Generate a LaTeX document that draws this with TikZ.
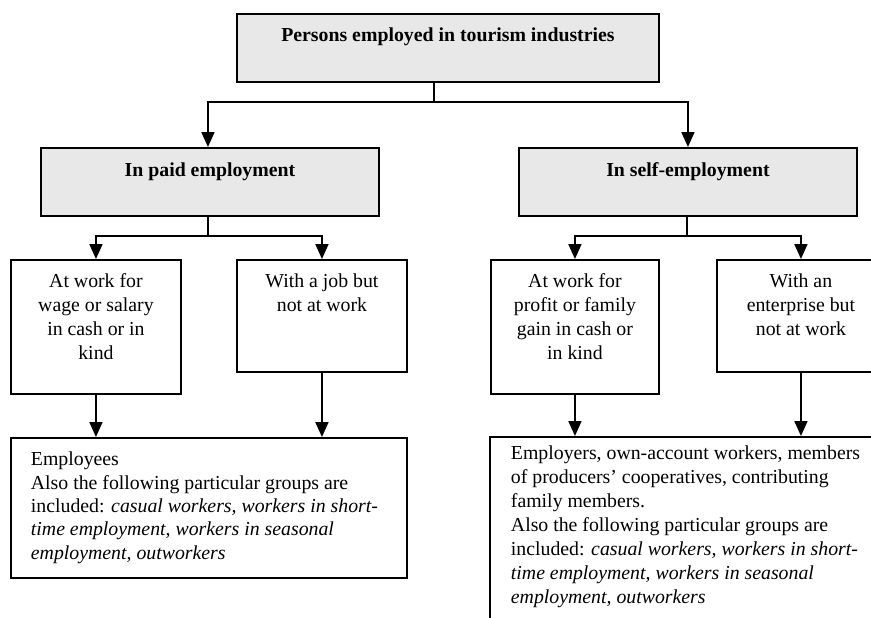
\documentclass[tikz,border=0pt]{standalone}
\usepackage{fontspec}
\setmainfont{Liberation Serif}
\usetikzlibrary{arrows.meta}
\definecolor{boxgray}{HTML}{E8E8E8}
\tikzset{
  box/.style={draw, line width=1.9pt, inner sep=0pt, anchor=north west},
  greybox/.style={box, fill=boxgray},
  link/.style={line width=1.9pt},
  arr/.style={link, -{Triangle[width=13pt,length=15pt]}},
  every node/.style={font=\fontsize{19.8}{23.7}\selectfont},
}
\newcommand{\cbox}[4]{\parbox[t][#2][t]{#1}{\centering\rule{0pt}{#3}#4}}
\newcommand{\lbox}[5]{\parbox[t][#2][t]{#1}{\raggedright\leftskip=#4\rule{0pt}{#3}#5}}
\begin{document}
\begin{tikzpicture}[x=1pt,y=-1pt]
\useasboundingbox (0,0) rectangle (871,618);
\node[greybox] (top) at (236,13) {\cbox{422pt}{68pt}{28pt}{\bfseries Persons employed in tourism industries}};
\node[greybox] (paid) at (40,147) {\cbox{338pt}{68pt}{29pt}{\bfseries In paid employment}};
\node[greybox] (self) at (518,147) {\cbox{338pt}{68pt}{29pt}{\bfseries In self-employment}};
\node[box] (A1) at (10,259) {\cbox{170pt}{134pt}{28pt}{At work for\\wage or salary\\in cash or in\\kind}};
\node[box] (A2) at (236,259) {\cbox{170pt}{112pt}{28pt}{With a job but\\not at work}};
\node[box] (B1) at (490,259) {\cbox{168pt}{134pt}{28pt}{At work for\\profit or family\\gain in cash or\\in kind}};
\node[box] (B2) at (716,259) {\cbox{168pt}{112pt}{28pt}{With an\\enterprise but\\not at work}};
\node[box] (C1) at (10,437) {\fontsize{19.8}{23.3}\selectfont\lbox{396pt}{140pt}{28pt}{20pt}{Employees\\Also the following particular groups are\\included: \textit{casual workers, workers in short-}\\\textit{time employment, workers in seasonal}\\\textit{employment, outworkers}}};
\node[box] (C2) at (489,436) {\fontsize{19.8}{24}\selectfont\lbox{420pt}{220pt}{23pt}{21pt}{Employers, own-account workers, members\\of producers’ cooperatives, contributing\\family members.\\Also the following particular groups are\\included: \textit{casual workers, workers in short-}\\\textit{time employment, workers in seasonal}\\\textit{employment, outworkers}}};
\coordinate (j0) at (434,102);
\draw[link] (top.south -| j0) -- (j0);
\draw[arr] (j0) -| ([xshift=-2pt]paid.north);
\draw[arr] (j0) -| (self.north);
\coordinate (j1) at (208,236);
\draw[link] (paid.south -| j1) -- (j1);
\draw[arr] (j1) -| (A1.north);
\draw[arr] (j1) -| (A2.north);
\coordinate (j2) at (687,236);
\draw[link] (self.south -| j2) -- (j2);
\draw[arr] (j2) -| (B1.north);
\draw[arr] (j2) -| (B2.north);
\draw[arr] (A1.south) -- (A1.south |- C1.north);
\draw[arr] (A2.south) -- (A2.south |- C1.north);
\draw[arr] (B1.south) -- (B1.south |- C2.north);
\draw[arr] (B2.south) -- (B2.south |- C2.north);
\end{tikzpicture}
\end{document}
